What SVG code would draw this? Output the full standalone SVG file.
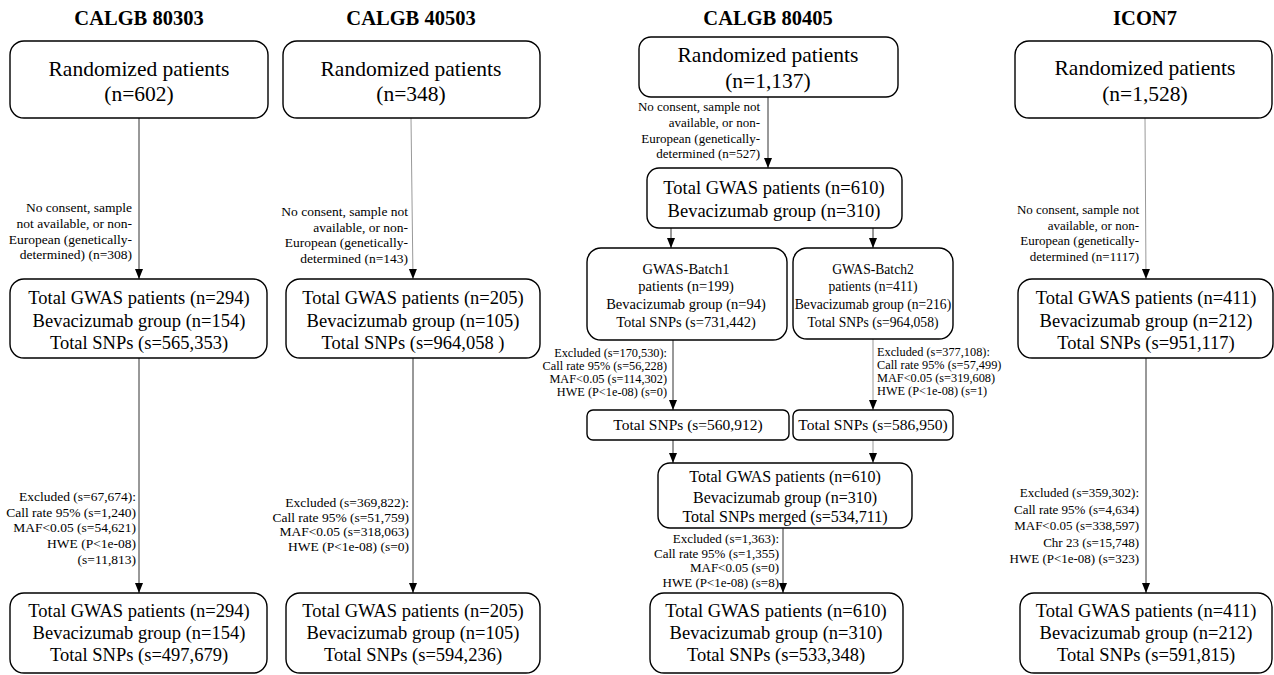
<svg xmlns="http://www.w3.org/2000/svg" width="1274" height="675" viewBox="0 0 1274 675" font-family="'Liberation Serif', 'Times New Roman', serif">
<defs>
<marker id="ah" markerUnits="userSpaceOnUse" markerWidth="10" markerHeight="10" viewBox="0 0 10 10" refX="10" refY="5" orient="auto">
<path d="M0,1 L10,5 L0,9 Z" fill="#000"/>
</marker>
</defs>
<style>
.title{font-family:'Liberation Serif',serif;font-size:20.5px;font-weight:bold;text-anchor:middle}
.big{font-family:'Liberation Serif',serif;font-size:21.5px;text-anchor:middle}
.mid{font-family:'Liberation Serif',serif;font-size:18.5px;text-anchor:middle}
.m16{font-family:'Liberation Serif',serif;font-size:16px;text-anchor:middle}
.s15{font-family:'Liberation Serif',serif;font-size:15.5px;text-anchor:middle}
.s14{font-family:'Liberation Serif',serif;font-size:14.5px;text-anchor:middle}
.s13{font-family:'Liberation Serif',serif;font-size:13.6px;text-anchor:middle}
.lab{font-family:'Liberation Serif',serif;font-size:13.5px;text-anchor:end}
.lab13{font-family:'Liberation Serif',serif;font-size:13px;text-anchor:end}
.lab12{font-family:'Liberation Serif',serif;font-size:12.3px;text-anchor:end}
.lab12l{font-family:'Liberation Serif',serif;font-size:12.3px;text-anchor:start}
.box{fill:#fff;stroke:#000;stroke-width:1.4}
.cn{stroke:#333;stroke-width:1;marker-end:url(#ah)}
.cg{stroke:#999;stroke-width:1;marker-end:url(#ah)}
</style>
<rect width="1274" height="675" fill="#fff"/>

<g id="titles">
<text class="title" x="139" y="25">CALGB 80303</text>
<text class="title" x="411" y="25">CALGB 40503</text>
<text class="title" x="768" y="25">CALGB 80405</text>
<text class="title" x="1145" y="25">ICON7</text>
</g>

<g id="connectors">
<line class="cn" x1="139" y1="118" x2="139" y2="279"/>
<line class="cn" x1="139" y1="358" x2="139" y2="593"/>
<line class="cg" x1="411" y1="118" x2="413" y2="279"/>
<line class="cn" x1="413" y1="358" x2="413" y2="593"/>
<line class="cn" x1="768" y1="97" x2="768" y2="168"/>
<line class="cn" x1="671" y1="228" x2="671" y2="248"/>
<line class="cn" x1="873" y1="228" x2="873" y2="248"/>
<line class="cn" x1="673" y1="340" x2="673" y2="410"/>
<line class="cg" x1="873" y1="339" x2="873" y2="410"/>
<line class="cn" x1="673" y1="440" x2="673" y2="463"/>
<line class="cg" x1="873" y1="440" x2="873" y2="463"/>
<line class="cn" x1="783" y1="528" x2="783" y2="593"/>
<line class="cg" x1="1145" y1="118" x2="1146" y2="279"/>
<line class="cn" x1="1146" y1="358" x2="1146" y2="593"/>
</g>

<g id="labels">
<text class="lab"><tspan x="132" y="212">No consent, sample</tspan><tspan x="132" y="228">not available, or non-</tspan><tspan x="132" y="244">European (genetically-</tspan><tspan x="132" y="259">determined) (n=308)</tspan></text>
<text class="lab"><tspan x="136" y="501">Excluded (s=67,674):</tspan><tspan x="136" y="517">Call rate 95% (s=1,240)</tspan><tspan x="136" y="532">MAF&lt;0.05 (s=54,621)</tspan><tspan x="136" y="548">HWE (P&lt;1e-08)</tspan><tspan x="136" y="564">(s=11,813)</tspan></text>
<text class="lab"><tspan x="408" y="216">No consent, sample not</tspan><tspan x="408" y="232">available, or non-</tspan><tspan x="408" y="247">European (genetically-</tspan><tspan x="408" y="263">determined (n=143)</tspan></text>
<text class="lab"><tspan x="409" y="507">Excluded (s=369,822):</tspan><tspan x="409" y="522">Call rate 95% (s=51,759)</tspan><tspan x="409" y="536">MAF&lt;0.05 (s=318,063)</tspan><tspan x="409" y="551">HWE (P&lt;1e-08) (s=0)</tspan></text>
<text class="lab13"><tspan x="760" y="111">No consent, sample not</tspan><tspan x="760" y="127">available, or non-</tspan><tspan x="760" y="143">European (genetically-</tspan><tspan x="760" y="158">determined (n=527)</tspan></text>
<text class="lab12"><tspan x="667" y="357">Excluded (s=170,530):</tspan><tspan x="667" y="370">Call rate 95% (s=56,228)</tspan><tspan x="667" y="383">MAF&lt;0.05 (s=114,302)</tspan><tspan x="667" y="396">HWE (P&lt;1e-08) (s=0)</tspan></text>
<text class="lab12l"><tspan x="877" y="356">Excluded (s=377,108):</tspan><tspan x="877" y="369">Call rate 95% (s=57,499)</tspan><tspan x="877" y="382">MAF&lt;0.05 (s=319,608)</tspan><tspan x="877" y="395">HWE (P&lt;1e-08) (s=1)</tspan></text>
<text class="lab13"><tspan x="779" y="543">Excluded (s=1,363):</tspan><tspan x="779" y="558">Call rate 95% (s=1,355)</tspan><tspan x="779" y="572">MAF&lt;0.05 (s=0)</tspan><tspan x="779" y="587">HWE (P&lt;1e-08) (s=8)</tspan></text>
<text class="lab13"><tspan x="1139" y="214">No consent, sample not</tspan><tspan x="1139" y="230">available, or non-</tspan><tspan x="1139" y="245">European (genetically-</tspan><tspan x="1139" y="261">determined (n=1117)</tspan></text>
<text class="lab13"><tspan x="1139" y="497">Excluded (s=359,302):</tspan><tspan x="1139" y="514">Call rate 95% (s=4,634)</tspan><tspan x="1139" y="530">MAF&lt;0.05 (s=338,597)</tspan><tspan x="1139" y="547">Chr 23 (s=15,748)</tspan><tspan x="1139" y="563">HWE (P&lt;1e-08) (s=323)</tspan></text>
</g>

<g id="a1"><rect class="box" x="10" y="41" width="258" height="77" rx="14"/><text class="big" x="139" y="76">Randomized patients</text><text class="big" x="139" y="101">(n=602)</text></g>
<g id="a2"><rect class="box" x="10" y="279" width="257" height="79" rx="14"/><text class="mid" x="139" y="304">Total GWAS patients (n=294)</text><text class="mid" x="139" y="327">Bevacizumab group (n=154)</text><text class="mid" x="139" y="349">Total SNPs (s=565,353)</text></g>
<g id="a3"><rect class="box" x="10" y="593" width="257" height="80" rx="14"/><text class="mid" x="139" y="617">Total GWAS patients (n=294)</text><text class="mid" x="139" y="639">Bevacizumab group (n=154)</text><text class="mid" x="139" y="661">Total SNPs (s=497,679)</text></g>

<g id="b1"><rect class="box" x="283" y="41" width="257" height="77" rx="14"/><text class="big" x="411" y="76">Randomized patients</text><text class="big" x="411" y="101">(n=348)</text></g>
<g id="b2"><rect class="box" x="286" y="279" width="254" height="79" rx="14"/><text class="mid" x="413" y="304">Total GWAS patients (n=205)</text><text class="mid" x="413" y="327">Bevacizumab group (n=105)</text><text class="mid" x="413" y="349">Total SNPs (s=964,058 )</text></g>
<g id="b3"><rect class="box" x="286" y="593" width="254" height="80" rx="14"/><text class="mid" x="413" y="617">Total GWAS patients (n=205)</text><text class="mid" x="413" y="639">Bevacizumab group (n=105)</text><text class="mid" x="413" y="661">Total SNPs (s=594,236)</text></g>

<g id="c1"><rect class="box" x="639" y="37" width="259" height="60" rx="12"/><text class="big" x="768" y="62">Randomized patients</text><text class="big" x="768" y="88">(n=1,137)</text></g>
<g id="c2"><rect class="box" x="647" y="168" width="255" height="60" rx="12"/><text class="mid" x="774" y="194">Total GWAS patients (n=610)</text><text class="mid" x="774" y="217">Bevacizumab group (n=310)</text></g>
<g id="c3"><rect class="box" x="587" y="248" width="200" height="92" rx="14"/><text class="s14" x="686" y="274">GWAS-Batch1</text><text class="s14" x="686" y="291">patients (n=199)</text><text class="s14" x="686" y="309">Bevacizumab group (n=94)</text><text class="s14" x="686" y="327">Total SNPs (s=731,442)</text></g>
<g id="c4"><rect class="box" x="793" y="248" width="160" height="91" rx="14"/><text class="s13" x="873" y="274">GWAS-Batch2</text><text class="s13" x="873" y="291">patients (n=411)</text><text class="s13" x="873" y="309">Bevacizumab group (n=216)</text><text class="s13" x="873" y="327">Total SNPs (s=964,058)</text></g>
<g id="c5"><rect class="box" x="587" y="410" width="202" height="30" rx="6"/><text class="s15" x="688" y="430">Total SNPs (s=560,912)</text></g>
<g id="c6"><rect class="box" x="793" y="410" width="160" height="30" rx="6"/><text class="s15" x="873" y="430">Total SNPs (s=586,950)</text></g>
<g id="c7"><rect class="box" x="658" y="463" width="254" height="65" rx="12"/><text class="m16" x="785" y="482">Total GWAS patients (n=610)</text><text class="m16" x="785" y="503">Bevacizumab group (n=310)</text><text class="m16" x="785" y="522">Total SNPs merged (s=534,711)</text></g>
<g id="c8"><rect class="box" x="650" y="593" width="253" height="80" rx="14"/><text class="mid" x="776" y="617">Total GWAS patients (n=610)</text><text class="mid" x="776" y="639">Bevacizumab group (n=310)</text><text class="mid" x="776" y="661">Total SNPs (s=533,348)</text></g>

<g id="d1"><rect class="box" x="1015" y="41" width="257" height="77" rx="14"/><text class="big" x="1145" y="75">Randomized patients</text><text class="big" x="1145" y="101">(n=1,528)</text></g>
<g id="d2"><rect class="box" x="1018" y="279" width="255" height="79" rx="14"/><text class="mid" x="1146" y="304">Total GWAS patients (n=411)</text><text class="mid" x="1146" y="327">Bevacizumab group (n=212)</text><text class="mid" x="1146" y="349">Total SNPs (s=951,117)</text></g>
<g id="d3"><rect class="box" x="1020" y="593" width="252" height="80" rx="14"/><text class="mid" x="1146" y="617">Total GWAS patients (n=411)</text><text class="mid" x="1146" y="639">Bevacizumab group (n=212)</text><text class="mid" x="1146" y="661">Total SNPs (s=591,815)</text></g>
</svg>
